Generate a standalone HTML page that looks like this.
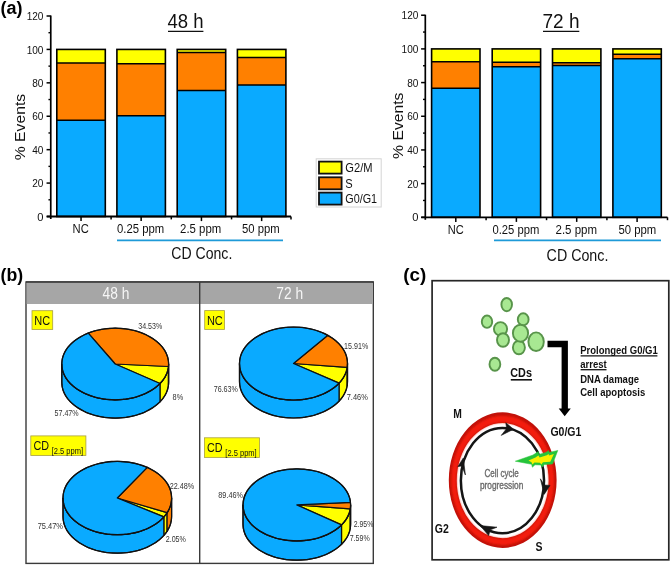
<!DOCTYPE html>
<html><head><meta charset="utf-8"><style>
html,body{margin:0;padding:0;background:#fff;}
svg{display:block;font-family:"Liberation Sans", sans-serif;filter:blur(0.3px);}
</style></head><body>
<svg width="672" height="567" viewBox="0 0 672 567">
<defs><filter id="bl" x="-10%" y="-10%" width="120%" height="120%"><feGaussianBlur stdDeviation="0.8"/></filter></defs>
<rect width="672" height="567" fill="#fff"/>
<text x="0.60" y="13.60" font-size="18.90" font-weight="bold" fill="#000" text-anchor="start" textLength="22.00" lengthAdjust="spacingAndGlyphs">(a)</text>
<rect x="56.80" y="49.42" width="48.50" height="167.08" fill="#ffff00" stroke="none" stroke-width="0"/>
<rect x="56.80" y="63.12" width="48.50" height="57.14" fill="#ff8000" stroke="none" stroke-width="0"/>
<rect x="56.80" y="120.26" width="48.50" height="96.24" fill="#0aaaff" stroke="none" stroke-width="0"/>
<line x1="56.80" y1="63.12" x2="105.30" y2="63.12" stroke="#000" stroke-width="1.5"/>
<line x1="56.80" y1="120.26" x2="105.30" y2="120.26" stroke="#000" stroke-width="1.5"/>
<rect x="56.80" y="49.42" width="48.50" height="167.08" fill="none" stroke="#000" stroke-width="1.6"/>
<rect x="116.90" y="49.42" width="48.50" height="167.08" fill="#ffff00" stroke="none" stroke-width="0"/>
<rect x="116.90" y="63.79" width="48.50" height="51.96" fill="#ff8000" stroke="none" stroke-width="0"/>
<rect x="116.90" y="115.75" width="48.50" height="100.75" fill="#0aaaff" stroke="none" stroke-width="0"/>
<line x1="116.90" y1="63.79" x2="165.40" y2="63.79" stroke="#000" stroke-width="1.5"/>
<line x1="116.90" y1="115.75" x2="165.40" y2="115.75" stroke="#000" stroke-width="1.5"/>
<rect x="116.90" y="49.42" width="48.50" height="167.08" fill="none" stroke="#000" stroke-width="1.6"/>
<rect x="177.20" y="49.42" width="48.50" height="167.08" fill="#ffff00" stroke="none" stroke-width="0"/>
<rect x="177.20" y="52.43" width="48.50" height="38.09" fill="#ff8000" stroke="none" stroke-width="0"/>
<rect x="177.20" y="90.52" width="48.50" height="125.98" fill="#0aaaff" stroke="none" stroke-width="0"/>
<line x1="177.20" y1="52.43" x2="225.70" y2="52.43" stroke="#000" stroke-width="1.5"/>
<line x1="177.20" y1="90.52" x2="225.70" y2="90.52" stroke="#000" stroke-width="1.5"/>
<rect x="177.20" y="49.42" width="48.50" height="167.08" fill="none" stroke="#000" stroke-width="1.6"/>
<rect x="237.40" y="49.42" width="48.50" height="167.08" fill="#ffff00" stroke="none" stroke-width="0"/>
<rect x="237.40" y="57.44" width="48.50" height="27.57" fill="#ff8000" stroke="none" stroke-width="0"/>
<rect x="237.40" y="85.01" width="48.50" height="131.49" fill="#0aaaff" stroke="none" stroke-width="0"/>
<line x1="237.40" y1="57.44" x2="285.90" y2="57.44" stroke="#000" stroke-width="1.5"/>
<line x1="237.40" y1="85.01" x2="285.90" y2="85.01" stroke="#000" stroke-width="1.5"/>
<rect x="237.40" y="49.42" width="48.50" height="167.08" fill="none" stroke="#000" stroke-width="1.6"/>
<line x1="50.75" y1="15.50" x2="50.75" y2="219.00" stroke="#000" stroke-width="1.7"/>
<line x1="46.75" y1="216.50" x2="291.00" y2="216.50" stroke="#000" stroke-width="1.8"/>
<line x1="46.55" y1="216.50" x2="50.75" y2="216.50" stroke="#000" stroke-width="1.5"/>
<text x="43.45" y="220.60" font-size="11.60" font-weight="normal" fill="#111" text-anchor="end" textLength="6.20" lengthAdjust="spacingAndGlyphs">0</text>
<line x1="46.55" y1="183.08" x2="50.75" y2="183.08" stroke="#000" stroke-width="1.5"/>
<text x="43.45" y="187.18" font-size="11.60" font-weight="normal" fill="#111" text-anchor="end" textLength="11.20" lengthAdjust="spacingAndGlyphs">20</text>
<line x1="46.55" y1="149.67" x2="50.75" y2="149.67" stroke="#000" stroke-width="1.5"/>
<text x="43.45" y="153.77" font-size="11.60" font-weight="normal" fill="#111" text-anchor="end" textLength="11.20" lengthAdjust="spacingAndGlyphs">40</text>
<line x1="46.55" y1="116.25" x2="50.75" y2="116.25" stroke="#000" stroke-width="1.5"/>
<text x="43.45" y="120.35" font-size="11.60" font-weight="normal" fill="#111" text-anchor="end" textLength="11.20" lengthAdjust="spacingAndGlyphs">60</text>
<line x1="46.55" y1="82.84" x2="50.75" y2="82.84" stroke="#000" stroke-width="1.5"/>
<text x="43.45" y="86.94" font-size="11.60" font-weight="normal" fill="#111" text-anchor="end" textLength="11.20" lengthAdjust="spacingAndGlyphs">80</text>
<line x1="46.55" y1="49.42" x2="50.75" y2="49.42" stroke="#000" stroke-width="1.5"/>
<text x="43.45" y="53.52" font-size="11.60" font-weight="normal" fill="#111" text-anchor="end" textLength="16.80" lengthAdjust="spacingAndGlyphs">100</text>
<line x1="46.55" y1="16.00" x2="50.75" y2="16.00" stroke="#000" stroke-width="1.5"/>
<text x="43.45" y="20.10" font-size="11.60" font-weight="normal" fill="#111" text-anchor="end" textLength="16.80" lengthAdjust="spacingAndGlyphs">120</text>
<line x1="48.45" y1="199.79" x2="50.75" y2="199.79" stroke="#000" stroke-width="1.4"/>
<line x1="48.45" y1="166.38" x2="50.75" y2="166.38" stroke="#000" stroke-width="1.4"/>
<line x1="48.45" y1="132.96" x2="50.75" y2="132.96" stroke="#000" stroke-width="1.4"/>
<line x1="48.45" y1="99.54" x2="50.75" y2="99.54" stroke="#000" stroke-width="1.4"/>
<line x1="48.45" y1="66.13" x2="50.75" y2="66.13" stroke="#000" stroke-width="1.4"/>
<line x1="48.45" y1="32.71" x2="50.75" y2="32.71" stroke="#000" stroke-width="1.4"/>
<line x1="81.05" y1="216.50" x2="81.05" y2="221.10" stroke="#000" stroke-width="1.5"/>
<line x1="111.10" y1="216.50" x2="111.10" y2="219.40" stroke="#000" stroke-width="1.5"/>
<line x1="141.15" y1="216.50" x2="141.15" y2="221.10" stroke="#000" stroke-width="1.5"/>
<line x1="171.30" y1="216.50" x2="171.30" y2="219.40" stroke="#000" stroke-width="1.5"/>
<line x1="201.45" y1="216.50" x2="201.45" y2="221.10" stroke="#000" stroke-width="1.5"/>
<line x1="231.55" y1="216.50" x2="231.55" y2="219.40" stroke="#000" stroke-width="1.5"/>
<line x1="261.65" y1="216.50" x2="261.65" y2="221.10" stroke="#000" stroke-width="1.5"/>
<line x1="291.00" y1="216.50" x2="291.00" y2="219.40" stroke="#000" stroke-width="1.5"/>
<text x="72.60" y="232.90" font-size="12.00" font-weight="normal" fill="#111" text-anchor="start" textLength="16.20" lengthAdjust="spacingAndGlyphs">NC</text>
<text x="117.10" y="232.90" font-size="12.00" font-weight="normal" fill="#111" text-anchor="start" textLength="47.10" lengthAdjust="spacingAndGlyphs">0.25 ppm</text>
<text x="180.10" y="232.90" font-size="12.00" font-weight="normal" fill="#111" text-anchor="start" textLength="41.10" lengthAdjust="spacingAndGlyphs">2.5 ppm</text>
<text x="242.00" y="232.90" font-size="12.00" font-weight="normal" fill="#111" text-anchor="start" textLength="37.70" lengthAdjust="spacingAndGlyphs">50 ppm</text>
<line x1="117.00" y1="240.40" x2="283.00" y2="240.40" stroke="#1e9ad8" stroke-width="1.6"/>
<text x="171.30" y="258.80" font-size="15.60" font-weight="normal" fill="#111" text-anchor="start" textLength="61.00" lengthAdjust="spacingAndGlyphs">CD Conc.</text>
<text x="167.50" y="28.30" font-size="19.50" font-weight="normal" fill="#111" text-anchor="start" textLength="36.10" lengthAdjust="spacingAndGlyphs">48 h</text>
<line x1="168.00" y1="31.40" x2="203.40" y2="31.40" stroke="#111" stroke-width="1.4"/>
<text transform="translate(25.30,160.20) rotate(-90)" font-size="14.3" fill="#111" textLength="66.3" lengthAdjust="spacingAndGlyphs">% Events</text>
<rect x="431.60" y="48.90" width="48.40" height="168.40" fill="#ffff00" stroke="none" stroke-width="0"/>
<rect x="431.60" y="61.87" width="48.40" height="26.27" fill="#ff8000" stroke="none" stroke-width="0"/>
<rect x="431.60" y="88.14" width="48.40" height="129.16" fill="#0aaaff" stroke="none" stroke-width="0"/>
<line x1="431.60" y1="61.87" x2="480.00" y2="61.87" stroke="#000" stroke-width="1.5"/>
<line x1="431.60" y1="88.14" x2="480.00" y2="88.14" stroke="#000" stroke-width="1.5"/>
<rect x="431.60" y="48.90" width="48.40" height="168.40" fill="none" stroke="#000" stroke-width="1.6"/>
<rect x="492.20" y="48.90" width="48.40" height="168.40" fill="#ffff00" stroke="none" stroke-width="0"/>
<rect x="492.20" y="62.37" width="48.40" height="4.38" fill="#ff8000" stroke="none" stroke-width="0"/>
<rect x="492.20" y="66.75" width="48.40" height="150.55" fill="#0aaaff" stroke="none" stroke-width="0"/>
<line x1="492.20" y1="62.37" x2="540.60" y2="62.37" stroke="#000" stroke-width="1.5"/>
<line x1="492.20" y1="66.75" x2="540.60" y2="66.75" stroke="#000" stroke-width="1.5"/>
<rect x="492.20" y="48.90" width="48.40" height="168.40" fill="none" stroke="#000" stroke-width="1.6"/>
<rect x="552.50" y="48.90" width="48.40" height="168.40" fill="#ffff00" stroke="none" stroke-width="0"/>
<rect x="552.50" y="62.71" width="48.40" height="2.69" fill="#ff8000" stroke="none" stroke-width="0"/>
<rect x="552.50" y="65.40" width="48.40" height="151.90" fill="#0aaaff" stroke="none" stroke-width="0"/>
<line x1="552.50" y1="62.71" x2="600.90" y2="62.71" stroke="#000" stroke-width="1.5"/>
<line x1="552.50" y1="65.40" x2="600.90" y2="65.40" stroke="#000" stroke-width="1.5"/>
<rect x="552.50" y="48.90" width="48.40" height="168.40" fill="none" stroke="#000" stroke-width="1.6"/>
<rect x="612.90" y="48.90" width="48.40" height="168.40" fill="#ffff00" stroke="none" stroke-width="0"/>
<rect x="612.90" y="54.29" width="48.40" height="4.46" fill="#ff8000" stroke="none" stroke-width="0"/>
<rect x="612.90" y="58.75" width="48.40" height="158.55" fill="#0aaaff" stroke="none" stroke-width="0"/>
<line x1="612.90" y1="54.29" x2="661.30" y2="54.29" stroke="#000" stroke-width="1.5"/>
<line x1="612.90" y1="58.75" x2="661.30" y2="58.75" stroke="#000" stroke-width="1.5"/>
<rect x="612.90" y="48.90" width="48.40" height="168.40" fill="none" stroke="#000" stroke-width="1.6"/>
<line x1="425.30" y1="14.72" x2="425.30" y2="219.80" stroke="#000" stroke-width="1.7"/>
<line x1="421.30" y1="217.30" x2="667.50" y2="217.30" stroke="#000" stroke-width="1.8"/>
<line x1="421.10" y1="217.30" x2="425.30" y2="217.30" stroke="#000" stroke-width="1.5"/>
<text x="418.40" y="221.40" font-size="11.60" font-weight="normal" fill="#111" text-anchor="end" textLength="6.20" lengthAdjust="spacingAndGlyphs">0</text>
<line x1="421.10" y1="183.62" x2="425.30" y2="183.62" stroke="#000" stroke-width="1.5"/>
<text x="418.40" y="187.72" font-size="11.60" font-weight="normal" fill="#111" text-anchor="end" textLength="11.20" lengthAdjust="spacingAndGlyphs">20</text>
<line x1="421.10" y1="149.94" x2="425.30" y2="149.94" stroke="#000" stroke-width="1.5"/>
<text x="418.40" y="154.04" font-size="11.60" font-weight="normal" fill="#111" text-anchor="end" textLength="11.20" lengthAdjust="spacingAndGlyphs">40</text>
<line x1="421.10" y1="116.26" x2="425.30" y2="116.26" stroke="#000" stroke-width="1.5"/>
<text x="418.40" y="120.36" font-size="11.60" font-weight="normal" fill="#111" text-anchor="end" textLength="11.20" lengthAdjust="spacingAndGlyphs">60</text>
<line x1="421.10" y1="82.58" x2="425.30" y2="82.58" stroke="#000" stroke-width="1.5"/>
<text x="418.40" y="86.68" font-size="11.60" font-weight="normal" fill="#111" text-anchor="end" textLength="11.20" lengthAdjust="spacingAndGlyphs">80</text>
<line x1="421.10" y1="48.90" x2="425.30" y2="48.90" stroke="#000" stroke-width="1.5"/>
<text x="418.40" y="53.00" font-size="11.60" font-weight="normal" fill="#111" text-anchor="end" textLength="16.80" lengthAdjust="spacingAndGlyphs">100</text>
<line x1="421.10" y1="15.22" x2="425.30" y2="15.22" stroke="#000" stroke-width="1.5"/>
<text x="418.40" y="19.32" font-size="11.60" font-weight="normal" fill="#111" text-anchor="end" textLength="16.80" lengthAdjust="spacingAndGlyphs">120</text>
<line x1="423.00" y1="200.46" x2="425.30" y2="200.46" stroke="#000" stroke-width="1.4"/>
<line x1="423.00" y1="166.78" x2="425.30" y2="166.78" stroke="#000" stroke-width="1.4"/>
<line x1="423.00" y1="133.10" x2="425.30" y2="133.10" stroke="#000" stroke-width="1.4"/>
<line x1="423.00" y1="99.42" x2="425.30" y2="99.42" stroke="#000" stroke-width="1.4"/>
<line x1="423.00" y1="65.74" x2="425.30" y2="65.74" stroke="#000" stroke-width="1.4"/>
<line x1="423.00" y1="32.06" x2="425.30" y2="32.06" stroke="#000" stroke-width="1.4"/>
<line x1="455.80" y1="217.30" x2="455.80" y2="221.90" stroke="#000" stroke-width="1.5"/>
<line x1="486.10" y1="217.30" x2="486.10" y2="220.20" stroke="#000" stroke-width="1.5"/>
<line x1="516.40" y1="217.30" x2="516.40" y2="221.90" stroke="#000" stroke-width="1.5"/>
<line x1="546.55" y1="217.30" x2="546.55" y2="220.20" stroke="#000" stroke-width="1.5"/>
<line x1="576.70" y1="217.30" x2="576.70" y2="221.90" stroke="#000" stroke-width="1.5"/>
<line x1="606.90" y1="217.30" x2="606.90" y2="220.20" stroke="#000" stroke-width="1.5"/>
<line x1="637.10" y1="217.30" x2="637.10" y2="221.90" stroke="#000" stroke-width="1.5"/>
<line x1="667.50" y1="217.30" x2="667.50" y2="220.20" stroke="#000" stroke-width="1.5"/>
<text x="447.80" y="233.50" font-size="12.00" font-weight="normal" fill="#111" text-anchor="start" textLength="16.00" lengthAdjust="spacingAndGlyphs">NC</text>
<text x="492.50" y="233.50" font-size="12.00" font-weight="normal" fill="#111" text-anchor="start" textLength="46.80" lengthAdjust="spacingAndGlyphs">0.25 ppm</text>
<text x="555.50" y="233.50" font-size="12.00" font-weight="normal" fill="#111" text-anchor="start" textLength="41.50" lengthAdjust="spacingAndGlyphs">2.5 ppm</text>
<text x="618.50" y="233.50" font-size="12.00" font-weight="normal" fill="#111" text-anchor="start" textLength="37.80" lengthAdjust="spacingAndGlyphs">50 ppm</text>
<line x1="494.00" y1="240.40" x2="661.00" y2="240.40" stroke="#1e9ad8" stroke-width="1.6"/>
<text x="546.60" y="260.60" font-size="15.60" font-weight="normal" fill="#111" text-anchor="start" textLength="61.80" lengthAdjust="spacingAndGlyphs">CD Conc.</text>
<text x="542.50" y="28.30" font-size="19.50" font-weight="normal" fill="#111" text-anchor="start" textLength="37.00" lengthAdjust="spacingAndGlyphs">72 h</text>
<line x1="543.00" y1="31.40" x2="579.30" y2="31.40" stroke="#111" stroke-width="1.4"/>
<text transform="translate(402.80,158.90) rotate(-90)" font-size="14.3" fill="#111" textLength="66.3" lengthAdjust="spacingAndGlyphs">% Events</text>
<rect x="316.20" y="158.80" width="65.00" height="48.20" fill="#fff" stroke="#d4d4d4" stroke-width="1"/>
<rect x="319.00" y="161.60" width="22.60" height="12.00" fill="#ffff00" stroke="#111" stroke-width="1.8"/>
<text x="345.30" y="172.10" font-size="12.40" font-weight="normal" fill="#111" text-anchor="start" textLength="27.20" lengthAdjust="spacingAndGlyphs">G2/M</text>
<rect x="319.00" y="177.30" width="22.60" height="12.00" fill="#ff8000" stroke="#111" stroke-width="1.8"/>
<text x="345.30" y="187.80" font-size="12.40" font-weight="normal" fill="#111" text-anchor="start" textLength="7.40" lengthAdjust="spacingAndGlyphs">S</text>
<rect x="319.00" y="192.60" width="22.60" height="12.00" fill="#0aaaff" stroke="#111" stroke-width="1.8"/>
<text x="345.30" y="203.10" font-size="12.40" font-weight="normal" fill="#111" text-anchor="start" textLength="31.80" lengthAdjust="spacingAndGlyphs">G0/G1</text>
<text x="0.50" y="280.50" font-size="18.90" font-weight="bold" fill="#000" text-anchor="start" textLength="22.60" lengthAdjust="spacingAndGlyphs">(b)</text>
<rect x="26.00" y="282.00" width="347.30" height="281.40" fill="#fff" stroke="#3a3a3a" stroke-width="1.4"/>
<rect x="26.70" y="282.70" width="346.10" height="21.30" fill="#a6a6a6" stroke="none" stroke-width="0"/>
<line x1="26.00" y1="282.00" x2="373.50" y2="282.00" stroke="#3a3a3a" stroke-width="1.6"/>
<line x1="199.70" y1="282.00" x2="199.70" y2="563.40" stroke="#3a3a3a" stroke-width="1.4"/>
<text x="102.60" y="298.90" font-size="16.30" font-weight="normal" fill="#f6f6f6" text-anchor="start" textLength="26.80" lengthAdjust="spacingAndGlyphs">48 h</text>
<text x="276.30" y="298.90" font-size="16.30" font-weight="normal" fill="#f6f6f6" text-anchor="start" textLength="26.80" lengthAdjust="spacingAndGlyphs">72 h</text>
<path d="M159.99,383.50 L161.55,381.78 L162.97,380.00 L164.23,378.18 L165.34,376.31 L166.30,374.40 L167.09,372.46 L167.72,370.49 L168.18,368.50 L168.47,366.50 L168.47,384.80 L168.18,386.80 L167.72,388.79 L167.09,390.76 L166.30,392.70 L165.34,394.61 L164.23,396.48 L162.97,398.30 L161.55,400.08 L159.99,401.80Z" fill="#ffff00" stroke="#111" stroke-width="1.25" stroke-linejoin="round"/>
<path d="M168.47,366.50 L168.57,365.25 L168.60,364.00 L168.60,382.30 L168.57,383.55 L168.47,384.80Z" fill="#ff8000" stroke="#111" stroke-width="1.25" stroke-linejoin="round"/>
<path d="M61.80,364.00 L61.87,365.87 L62.09,367.74 L62.46,369.60 L62.97,371.44 L63.62,373.27 L64.41,375.06 L65.35,376.83 L66.42,378.56 L67.62,380.25 L68.95,381.90 L70.41,383.50 L72.00,385.04 L73.70,386.53 L75.52,387.95 L77.44,389.31 L79.47,390.60 L81.59,391.82 L83.81,392.96 L86.12,394.02 L88.50,395.00 L90.96,395.90 L93.48,396.70 L96.06,397.42 L98.70,398.05 L101.38,398.58 L104.10,399.02 L106.85,399.36 L109.62,399.60 L112.41,399.75 L115.20,399.80 L117.99,399.75 L120.78,399.60 L123.55,399.36 L126.30,399.02 L129.02,398.58 L131.70,398.05 L134.34,397.42 L136.92,396.70 L139.44,395.90 L141.90,395.00 L144.28,394.02 L146.59,392.96 L148.81,391.82 L150.93,390.60 L152.96,389.31 L154.88,387.95 L156.70,386.53 L158.40,385.04 L159.99,383.50 L159.99,401.80 L158.40,403.34 L156.70,404.83 L154.88,406.25 L152.96,407.61 L150.93,408.90 L148.81,410.12 L146.59,411.26 L144.28,412.32 L141.90,413.30 L139.44,414.20 L136.92,415.00 L134.34,415.72 L131.70,416.35 L129.02,416.88 L126.30,417.32 L123.55,417.66 L120.78,417.90 L117.99,418.05 L115.20,418.10 L112.41,418.05 L109.62,417.90 L106.85,417.66 L104.10,417.32 L101.38,416.88 L98.70,416.35 L96.06,415.72 L93.48,415.00 L90.96,414.20 L88.50,413.30 L86.12,412.32 L83.81,411.26 L81.59,410.12 L79.47,408.90 L77.44,407.61 L75.52,406.25 L73.70,404.83 L72.00,403.34 L70.41,401.80 L68.95,400.20 L67.62,398.55 L66.42,396.86 L65.35,395.13 L64.41,393.36 L63.62,391.57 L62.97,389.74 L62.46,387.90 L62.09,386.04 L61.87,384.17 L61.80,382.30Z" fill="#0aaaff" stroke="#111" stroke-width="1.25" stroke-linejoin="round"/>
<path d="M115.20,364.00 L159.99,383.50 L161.55,381.78 L162.97,380.00 L164.23,378.18 L165.34,376.31 L166.30,374.40 L167.09,372.46 L167.72,370.49 L168.18,368.50 L168.47,366.50Z" fill="#ffff00" stroke="#111" stroke-width="1.25" stroke-linejoin="round"/>
<path d="M115.20,364.00 L168.47,366.50 L168.59,364.60 L168.57,362.71 L168.39,360.82 L168.06,358.94 L167.59,357.07 L166.97,355.22 L166.21,353.40 L165.30,351.61 L164.25,349.85 L163.07,348.13 L161.75,346.45 L160.30,344.83 L158.72,343.26 L157.02,341.74 L155.21,340.29 L153.28,338.90 L151.25,337.59 L149.12,336.35 L146.89,335.18 L144.57,334.10 L142.17,333.10 L139.69,332.19 L137.15,331.36 L134.54,330.63 L131.89,329.99 L129.18,329.45 L126.43,329.00 L123.66,328.65 L120.86,328.40 L118.04,328.25 L115.22,328.20 L112.39,328.25 L109.58,328.40 L106.77,328.65 L104.00,329.00 L101.25,329.44 L98.55,329.99 L95.89,330.62 L93.28,331.36 L90.73,332.18 L88.26,333.09Z" fill="#ff8000" stroke="#111" stroke-width="1.25" stroke-linejoin="round"/>
<path d="M115.20,364.00 L88.26,333.09 L85.85,334.09 L83.53,335.18 L81.29,336.34 L79.15,337.59 L77.11,338.91 L75.18,340.30 L73.36,341.75 L71.66,343.27 L70.08,344.85 L68.63,346.48 L67.31,348.16 L66.13,349.88 L65.08,351.65 L64.17,353.45 L63.41,355.28 L62.79,357.13 L62.32,359.00 L62.00,360.89 L61.83,362.78 L61.81,364.68 L61.94,366.58 L62.22,368.47 L62.65,370.35 L63.22,372.21 L63.94,374.04 L64.81,375.85 L65.82,377.63 L66.97,379.36 L68.25,381.06 L69.66,382.70 L71.21,384.29 L72.88,385.83 L74.66,387.30 L76.56,388.71 L78.57,390.05 L80.68,391.32 L82.89,392.50 L85.19,393.61 L87.58,394.64 L90.04,395.58 L92.57,396.43 L95.17,397.19 L97.82,397.85 L100.52,398.42 L103.27,398.89 L106.04,399.27 L108.85,399.55 L111.67,399.72 L114.50,399.80 L117.33,399.77 L120.16,399.65 L122.97,399.42 L125.76,399.09 L128.52,398.67 L131.24,398.15 L133.92,397.53 L136.55,396.81 L139.11,396.01 L141.61,395.11 L144.03,394.13 L146.38,393.06 L148.63,391.92 L150.79,390.69 L152.85,389.38 L154.81,388.01 L156.65,386.57 L158.38,385.06 L159.99,383.50Z" fill="#0aaaff" stroke="#111" stroke-width="1.25" stroke-linejoin="round"/>
<ellipse cx="115.20" cy="364.00" rx="53.40" ry="35.80" fill="none" stroke="#111" stroke-width="1.2"/>
<path d="M61.80,364.00 L61.80,382.30 A53.40,35.80 0 0 0 168.60,382.30 L168.60,364.00" fill="none" stroke="#111" stroke-width="1.2"/>
<path d="M339.04,383.11 L340.64,381.30 L342.09,379.43 L343.37,377.50 L344.48,375.53 L345.42,373.52 L346.19,371.48 L346.79,369.41 L347.20,367.32 L347.20,385.32 L346.79,387.41 L346.19,389.48 L345.42,391.52 L344.48,393.53 L343.37,395.50 L342.09,397.43 L340.64,399.30 L339.04,401.11Z" fill="#ffff00" stroke="#111" stroke-width="1.25" stroke-linejoin="round"/>
<path d="M347.20,367.32 L347.43,365.41 L347.50,363.50 L347.50,381.50 L347.43,383.41 L347.20,385.32Z" fill="#ff8000" stroke="#111" stroke-width="1.25" stroke-linejoin="round"/>
<path d="M239.50,363.50 L239.57,365.42 L239.80,367.33 L240.17,369.23 L240.69,371.11 L241.35,372.98 L242.16,374.82 L243.11,376.62 L244.20,378.39 L245.43,380.12 L246.78,381.81 L248.27,383.44 L249.88,385.02 L251.61,386.54 L253.46,387.99 L255.42,389.38 L257.48,390.69 L259.64,391.94 L261.90,393.10 L264.24,394.18 L266.67,395.17 L269.16,396.08 L271.73,396.90 L274.35,397.63 L277.03,398.26 L279.76,398.80 L282.52,399.24 L285.31,399.58 L288.12,399.82 L290.95,399.96 L293.79,400.00 L296.62,399.94 L299.45,399.78 L302.26,399.52 L305.05,399.16 L307.80,398.70 L310.52,398.14 L313.18,397.49 L315.80,396.74 L318.35,395.91 L320.83,394.98 L323.24,393.97 L325.57,392.87 L327.80,391.69 L329.95,390.43 L331.99,389.10 L333.92,387.70 L335.75,386.23 L337.46,384.70 L339.04,383.11 L339.04,401.11 L337.46,402.70 L335.75,404.23 L333.92,405.70 L331.99,407.10 L329.95,408.43 L327.80,409.69 L325.57,410.87 L323.24,411.97 L320.83,412.98 L318.35,413.91 L315.80,414.74 L313.18,415.49 L310.52,416.14 L307.80,416.70 L305.05,417.16 L302.26,417.52 L299.45,417.78 L296.62,417.94 L293.79,418.00 L290.95,417.96 L288.12,417.82 L285.31,417.58 L282.52,417.24 L279.76,416.80 L277.03,416.26 L274.35,415.63 L271.73,414.90 L269.16,414.08 L266.67,413.17 L264.24,412.18 L261.90,411.10 L259.64,409.94 L257.48,408.69 L255.42,407.38 L253.46,405.99 L251.61,404.54 L249.88,403.02 L248.27,401.44 L246.78,399.81 L245.43,398.12 L244.20,396.39 L243.11,394.62 L242.16,392.82 L241.35,390.98 L240.69,389.11 L240.17,387.23 L239.80,385.33 L239.57,383.42 L239.50,381.50Z" fill="#0aaaff" stroke="#111" stroke-width="1.25" stroke-linejoin="round"/>
<path d="M293.50,363.50 L339.04,383.11 L340.64,381.30 L342.09,379.43 L343.37,377.50 L344.48,375.53 L345.42,373.52 L346.19,371.48 L346.79,369.41 L347.20,367.32Z" fill="#ffff00" stroke="#111" stroke-width="1.25" stroke-linejoin="round"/>
<path d="M293.50,363.50 L347.20,367.32 L347.43,365.32 L347.50,363.32 L347.40,361.32 L347.15,359.33 L346.73,357.35 L346.15,355.39 L345.42,353.46 L344.52,351.55 L343.48,349.68 L342.28,347.85 L340.94,346.07 L339.46,344.34 L337.84,342.67 L336.08,341.06 L334.20,339.51 L332.20,338.04 L330.08,336.65 L327.85,335.34Z" fill="#ff8000" stroke="#111" stroke-width="1.25" stroke-linejoin="round"/>
<path d="M293.50,363.50 L327.85,335.34 L325.61,334.16 L323.29,333.06 L320.88,332.04 L318.40,331.11 L315.85,330.27 L313.23,329.52 L310.57,328.87 L307.85,328.31 L305.10,327.85 L302.31,327.49 L299.50,327.23 L296.67,327.06 L293.84,327.00 L291.00,327.04 L288.17,327.18 L285.36,327.42 L282.56,327.76 L279.80,328.19 L277.08,328.73 L274.40,329.36 L271.77,330.09 L269.20,330.90 L266.70,331.81 L264.28,332.81 L261.93,333.89 L259.68,335.05 L257.51,336.29 L255.45,337.60 L253.49,338.99 L251.64,340.44 L249.90,341.96 L248.29,343.54 L246.80,345.17 L245.44,346.86 L244.21,348.58 L243.12,350.35 L242.17,352.16 L241.36,354.00 L240.69,355.86 L240.17,357.75 L239.80,359.65 L239.58,361.56 L239.50,363.48 L239.57,365.40 L239.79,367.31 L240.16,369.21 L240.68,371.10 L241.35,372.96 L242.15,374.80 L243.10,376.61 L244.19,378.38 L245.41,380.11 L246.77,381.79 L248.26,383.43 L249.87,385.00 L251.60,386.52 L253.45,387.98 L255.40,389.37 L257.47,390.68 L259.63,391.93 L261.88,393.09 L264.23,394.17 L266.65,395.17 L269.15,396.08 L271.71,396.90 L274.34,397.63 L277.02,398.26 L279.74,398.80 L282.50,399.24 L285.30,399.58 L288.11,399.82 L290.94,399.96 L293.78,400.00 L296.61,399.94 L299.44,399.78 L302.25,399.52 L305.04,399.16 L307.79,398.70 L310.51,398.14 L313.18,397.49 L315.79,396.75 L318.34,395.91 L320.83,394.98 L323.24,393.97 L325.56,392.87 L327.80,391.69 L329.94,390.43 L331.99,389.10 L333.92,387.70 L335.75,386.23 L337.46,384.70 L339.04,383.11Z" fill="#0aaaff" stroke="#111" stroke-width="1.25" stroke-linejoin="round"/>
<ellipse cx="293.50" cy="363.50" rx="54.00" ry="36.50" fill="none" stroke="#111" stroke-width="1.2"/>
<path d="M239.50,363.50 L239.50,381.50 A54.00,36.50 0 0 0 347.50,381.50 L347.50,363.50" fill="none" stroke="#111" stroke-width="1.2"/>
<path d="M163.84,516.90 L165.57,514.80 L167.10,512.63 L167.10,531.13 L165.57,533.30 L163.84,535.40Z" fill="#ffff00" stroke="#111" stroke-width="1.25" stroke-linejoin="round"/>
<path d="M167.10,512.63 L168.28,510.64 L169.29,508.60 L170.12,506.52 L170.76,504.42 L171.23,502.29 L171.51,500.15 L171.60,498.00 L171.60,516.50 L171.51,518.65 L171.23,520.79 L170.76,522.92 L170.12,525.02 L169.29,527.10 L168.28,529.14 L167.10,531.13Z" fill="#ff8000" stroke="#111" stroke-width="1.25" stroke-linejoin="round"/>
<path d="M63.00,498.00 L63.08,499.95 L63.31,501.89 L63.69,503.82 L64.22,505.73 L64.90,507.62 L65.73,509.49 L66.70,511.32 L67.82,513.12 L69.08,514.87 L70.47,516.58 L71.99,518.23 L73.64,519.82 L75.42,521.36 L77.31,522.83 L79.32,524.23 L81.43,525.55 L83.64,526.80 L85.95,527.97 L88.35,529.05 L90.82,530.04 L93.37,530.95 L95.99,531.76 L98.67,532.47 L101.41,533.09 L104.18,533.61 L107.00,534.03 L109.84,534.35 L112.70,534.57 L115.58,534.68 L118.46,534.69 L121.34,534.60 L124.21,534.40 L127.05,534.10 L129.87,533.70 L132.66,533.20 L135.40,532.60 L138.09,531.90 L140.72,531.11 L143.29,530.22 L145.78,529.25 L148.19,528.18 L150.52,527.03 L152.75,525.80 L154.88,524.49 L156.91,523.11 L158.82,521.65 L160.62,520.13 L162.30,518.54 L163.84,516.90 L163.84,535.40 L162.30,537.04 L160.62,538.63 L158.82,540.15 L156.91,541.61 L154.88,542.99 L152.75,544.30 L150.52,545.53 L148.19,546.68 L145.78,547.75 L143.29,548.72 L140.72,549.61 L138.09,550.40 L135.40,551.10 L132.66,551.70 L129.87,552.20 L127.05,552.60 L124.21,552.90 L121.34,553.10 L118.46,553.19 L115.58,553.18 L112.70,553.07 L109.84,552.85 L107.00,552.53 L104.18,552.11 L101.41,551.59 L98.67,550.97 L95.99,550.26 L93.37,549.45 L90.82,548.54 L88.35,547.55 L85.95,546.47 L83.64,545.30 L81.43,544.05 L79.32,542.73 L77.31,541.33 L75.42,539.86 L73.64,538.32 L71.99,536.73 L70.47,535.08 L69.08,533.37 L67.82,531.62 L66.70,529.82 L65.73,527.99 L64.90,526.12 L64.22,524.23 L63.69,522.32 L63.31,520.39 L63.08,518.45 L63.00,516.50Z" fill="#0aaaff" stroke="#111" stroke-width="1.25" stroke-linejoin="round"/>
<path d="M117.30,498.00 L163.84,516.90 L165.57,514.80 L167.10,512.63Z" fill="#ffff00" stroke="#111" stroke-width="1.25" stroke-linejoin="round"/>
<path d="M117.30,498.00 L167.10,512.63 L168.19,510.81 L169.13,508.94 L169.92,507.05 L170.57,505.12 L171.06,503.18 L171.39,501.22 L171.57,499.26 L171.59,497.29 L171.45,495.32 L171.16,493.36 L170.72,491.41 L170.12,489.48 L169.36,487.58 L168.46,485.70 L167.41,483.86 L166.22,482.07 L164.88,480.32 L163.41,478.61 L161.80,476.97 L160.07,475.39 L158.21,473.87 L156.23,472.42 L154.15,471.04 L151.95,469.74 L149.66,468.53 L147.27,467.40Z" fill="#ff8000" stroke="#111" stroke-width="1.25" stroke-linejoin="round"/>
<path d="M117.30,498.00 L147.27,467.40 L144.84,466.37 L142.33,465.43 L139.75,464.58 L137.10,463.83 L134.40,463.17 L131.66,462.61 L128.87,462.14 L126.05,461.78 L123.21,461.52 L120.35,461.36 L117.48,461.30 L114.62,461.34 L111.76,461.49 L108.91,461.74 L106.09,462.09 L103.30,462.54 L100.55,463.09 L97.84,463.74 L95.19,464.48 L92.60,465.32 L90.08,466.24 L87.64,467.26 L85.28,468.36 L83.01,469.55 L80.83,470.81 L78.76,472.15 L76.79,473.56 L74.94,475.04 L73.20,476.59 L71.59,478.19 L70.10,479.85 L68.75,481.56 L67.54,483.32 L66.46,485.11 L65.52,486.95 L64.73,488.81 L64.08,490.70 L63.59,492.61 L63.24,494.54 L63.05,496.47 L63.00,498.41 L63.11,500.35 L63.37,502.28 L63.78,504.20 L64.34,506.10 L65.05,507.98 L65.90,509.83 L66.89,511.65 L68.03,513.43 L69.31,515.17 L70.72,516.86 L72.25,518.49 L73.92,520.07 L75.70,521.59 L77.61,523.04 L79.62,524.42 L81.74,525.73 L83.95,526.96 L86.26,528.11 L88.66,529.18 L91.14,530.16 L93.69,531.05 L96.30,531.84 L98.98,532.55 L101.70,533.15 L104.47,533.66 L107.28,534.07 L110.11,534.38 L112.96,534.58 L115.83,534.69 L118.70,534.69 L121.56,534.59 L124.41,534.38 L127.25,534.08 L130.05,533.67 L132.82,533.17 L135.55,532.57 L138.23,531.87 L140.84,531.07 L143.39,530.18 L145.87,529.21 L148.27,528.14 L150.59,527.00 L152.80,525.77 L154.93,524.46 L156.94,523.08 L158.85,521.63 L160.63,520.12 L162.30,518.54 L163.84,516.90Z" fill="#0aaaff" stroke="#111" stroke-width="1.25" stroke-linejoin="round"/>
<ellipse cx="117.30" cy="498.00" rx="54.30" ry="36.70" fill="none" stroke="#111" stroke-width="1.2"/>
<path d="M63.00,498.00 L63.00,516.50 A54.30,36.70 0 0 0 171.60,516.50 L171.60,498.00" fill="none" stroke="#111" stroke-width="1.2"/>
<path d="M341.51,524.93 L343.03,523.32 L344.42,521.65 L345.68,519.94 L346.80,518.19 L347.78,516.40 L348.62,514.58 L349.31,512.73 L349.86,510.86 L350.25,508.98 L350.25,528.28 L349.86,530.16 L349.31,532.03 L348.62,533.88 L347.78,535.70 L346.80,537.49 L345.68,539.24 L344.42,540.95 L343.03,542.62 L341.51,544.23Z" fill="#ffff00" stroke="#111" stroke-width="1.25" stroke-linejoin="round"/>
<path d="M350.25,508.98 L350.51,506.94 L350.60,504.90 L350.60,524.20 L350.51,526.24 L350.25,528.28Z" fill="#ff8000" stroke="#111" stroke-width="1.25" stroke-linejoin="round"/>
<path d="M243.00,504.90 L243.08,506.81 L243.30,508.72 L243.68,510.62 L244.21,512.50 L244.89,514.36 L245.71,516.19 L246.68,517.99 L247.79,519.75 L249.04,521.47 L250.42,523.15 L251.94,524.77 L253.58,526.34 L255.34,527.85 L257.22,529.29 L259.22,530.66 L261.32,531.96 L263.51,533.18 L265.81,534.33 L268.19,535.39 L270.65,536.36 L273.18,537.25 L275.79,538.04 L278.45,538.74 L281.16,539.35 L283.92,539.85 L286.71,540.26 L289.53,540.57 L292.38,540.78 L295.23,540.88 L298.09,540.89 L300.95,540.79 L303.79,540.59 L306.62,540.30 L309.41,539.90 L312.17,539.40 L314.89,538.80 L317.56,538.11 L320.17,537.33 L322.71,536.45 L325.18,535.49 L327.57,534.43 L329.87,533.30 L332.08,532.08 L334.18,530.79 L336.19,529.42 L338.08,527.99 L339.85,526.49 L341.51,524.93 L341.51,544.23 L339.85,545.79 L338.08,547.29 L336.19,548.72 L334.18,550.09 L332.08,551.38 L329.87,552.60 L327.57,553.73 L325.18,554.79 L322.71,555.75 L320.17,556.63 L317.56,557.41 L314.89,558.10 L312.17,558.70 L309.41,559.20 L306.62,559.60 L303.79,559.89 L300.95,560.09 L298.09,560.19 L295.23,560.18 L292.38,560.08 L289.53,559.87 L286.71,559.56 L283.92,559.15 L281.16,558.65 L278.45,558.04 L275.79,557.34 L273.18,556.55 L270.65,555.66 L268.19,554.69 L265.81,553.63 L263.51,552.48 L261.32,551.26 L259.22,549.96 L257.22,548.59 L255.34,547.15 L253.58,545.64 L251.94,544.07 L250.42,542.45 L249.04,540.77 L247.79,539.05 L246.68,537.29 L245.71,535.49 L244.89,533.66 L244.21,531.80 L243.68,529.92 L243.30,528.02 L243.08,526.11 L243.00,524.20Z" fill="#0aaaff" stroke="#111" stroke-width="1.25" stroke-linejoin="round"/>
<path d="M296.80,504.90 L341.51,524.93 L343.03,523.32 L344.42,521.65 L345.68,519.94 L346.80,518.19 L347.78,516.40 L348.62,514.58 L349.31,512.73 L349.86,510.86 L350.25,508.98Z" fill="#ffff00" stroke="#111" stroke-width="1.25" stroke-linejoin="round"/>
<path d="M296.80,504.90 L350.25,508.98 L350.53,506.76 L350.60,504.54 L350.46,502.33Z" fill="#ff8000" stroke="#111" stroke-width="1.25" stroke-linejoin="round"/>
<path d="M296.80,504.90 L350.46,502.33 L350.19,500.44 L349.76,498.57 L349.19,496.72 L348.48,494.89 L347.62,493.09 L346.63,491.32 L345.49,489.59 L344.22,487.90 L342.82,486.26 L341.30,484.66 L339.65,483.13 L337.88,481.65 L336.00,480.24 L334.01,478.90 L331.92,477.63 L329.73,476.43 L327.45,475.31 L325.08,474.28 L322.64,473.32 L320.13,472.46 L317.55,471.68 L314.91,471.00 L312.23,470.41 L309.50,469.92 L306.74,469.52 L303.95,469.22 L301.14,469.02 L298.31,468.91 L295.49,468.91 L292.66,469.01 L289.85,469.20 L287.06,469.49 L284.30,469.89 L281.57,470.37 L278.88,470.96 L276.24,471.63 L273.66,472.40 L271.14,473.26 L268.69,474.21 L266.32,475.24 L264.03,476.35 L261.84,477.54 L259.74,478.80 L257.74,480.14 L255.85,481.55 L254.08,483.02 L252.42,484.55 L250.88,486.14 L249.47,487.78 L248.19,489.47 L247.05,491.20 L246.04,492.96 L245.18,494.76 L244.45,496.59 L243.87,498.44 L243.44,500.31 L243.15,502.19 L243.01,504.08 L243.02,505.97 L243.18,507.86 L243.49,509.74 L243.94,511.61 L244.54,513.46 L245.28,515.28 L246.17,517.08 L247.20,518.84 L248.36,520.56 L249.65,522.24 L251.08,523.88 L252.63,525.46 L254.31,526.98 L256.10,528.44 L258.00,529.84 L260.01,531.17 L262.13,532.43 L264.33,533.61 L266.63,534.71 L269.01,535.73 L271.47,536.66 L274.00,537.51 L276.59,538.26 L279.23,538.93 L281.93,539.50 L284.66,539.97 L287.43,540.35 L290.23,540.63 L293.04,540.81 L295.87,540.89 L298.69,540.88 L301.51,540.76 L304.32,540.55 L307.11,540.23 L309.87,539.82 L312.59,539.31 L315.27,538.71 L317.90,538.02 L320.47,537.23 L322.97,536.35 L325.40,535.39 L327.76,534.34 L330.02,533.21 L332.20,532.01 L334.28,530.73 L336.25,529.37 L338.12,527.95 L339.87,526.47 L341.51,524.93Z" fill="#0aaaff" stroke="#111" stroke-width="1.25" stroke-linejoin="round"/>
<ellipse cx="296.80" cy="504.90" rx="53.80" ry="36.00" fill="none" stroke="#111" stroke-width="1.2"/>
<path d="M243.00,504.90 L243.00,524.20 A53.80,36.00 0 0 0 350.60,524.20 L350.60,504.90" fill="none" stroke="#111" stroke-width="1.2"/>
<text x="138.20" y="328.80" font-size="9.40" font-weight="normal" fill="#333" text-anchor="start" textLength="24.00" lengthAdjust="spacingAndGlyphs">34.53%</text>
<text x="172.60" y="399.50" font-size="9.40" font-weight="normal" fill="#333" text-anchor="start" textLength="10.60" lengthAdjust="spacingAndGlyphs">8%</text>
<text x="54.50" y="416.30" font-size="9.40" font-weight="normal" fill="#333" text-anchor="start" textLength="24.10" lengthAdjust="spacingAndGlyphs">57.47%</text>
<text x="344.10" y="348.80" font-size="9.40" font-weight="normal" fill="#333" text-anchor="start" textLength="24.10" lengthAdjust="spacingAndGlyphs">15.91%</text>
<text x="213.70" y="392.10" font-size="9.40" font-weight="normal" fill="#333" text-anchor="start" textLength="24.10" lengthAdjust="spacingAndGlyphs">76.63%</text>
<text x="346.70" y="400.30" font-size="9.40" font-weight="normal" fill="#333" text-anchor="start" textLength="21.10" lengthAdjust="spacingAndGlyphs">7.46%</text>
<text x="169.70" y="489.30" font-size="9.40" font-weight="normal" fill="#333" text-anchor="start" textLength="24.60" lengthAdjust="spacingAndGlyphs">22.48%</text>
<text x="165.70" y="541.80" font-size="9.40" font-weight="normal" fill="#333" text-anchor="start" textLength="20.20" lengthAdjust="spacingAndGlyphs">2.05%</text>
<text x="37.70" y="529.10" font-size="9.40" font-weight="normal" fill="#333" text-anchor="start" textLength="25.30" lengthAdjust="spacingAndGlyphs">75.47%</text>
<text x="218.30" y="497.60" font-size="9.40" font-weight="normal" fill="#333" text-anchor="start" textLength="24.70" lengthAdjust="spacingAndGlyphs">89.46%</text>
<text x="353.70" y="527.00" font-size="9.40" font-weight="normal" fill="#333" text-anchor="start" textLength="19.60" lengthAdjust="spacingAndGlyphs">2.95%</text>
<text x="349.70" y="541.20" font-size="9.40" font-weight="normal" fill="#333" text-anchor="start" textLength="20.00" lengthAdjust="spacingAndGlyphs">7.59%</text>
<rect x="32.00" y="310.70" width="20.70" height="18.80" fill="#ffff00" stroke="#a8a040" stroke-width="0.8"/>
<text x="34.20" y="325.00" font-size="13.20" font-weight="normal" fill="#111" text-anchor="start" textLength="15.90" lengthAdjust="spacingAndGlyphs">NC</text>
<rect x="204.70" y="310.60" width="19.90" height="18.80" fill="#ffff00" stroke="#a8a040" stroke-width="0.8"/>
<text x="206.90" y="324.90" font-size="13.20" font-weight="normal" fill="#111" text-anchor="start" textLength="15.90" lengthAdjust="spacingAndGlyphs">NC</text>
<rect x="30.80" y="435.90" width="55.10" height="19.60" fill="#ffff00" stroke="#a8a040" stroke-width="0.8"/>
<text x="33.40" y="450.30" font-size="12.20" font-weight="normal" fill="#111" text-anchor="start" textLength="15.60" lengthAdjust="spacingAndGlyphs">CD</text>
<text x="51.70" y="453.80" font-size="8.60" font-weight="normal" fill="#111" text-anchor="start" textLength="31.40" lengthAdjust="spacingAndGlyphs">[2.5 ppm]</text>
<rect x="204.40" y="437.80" width="55.10" height="19.60" fill="#ffff00" stroke="#a8a040" stroke-width="0.8"/>
<text x="207.00" y="452.20" font-size="12.20" font-weight="normal" fill="#111" text-anchor="start" textLength="15.60" lengthAdjust="spacingAndGlyphs">CD</text>
<text x="225.30" y="455.70" font-size="8.60" font-weight="normal" fill="#111" text-anchor="start" textLength="31.40" lengthAdjust="spacingAndGlyphs">[2.5 ppm]</text>
<text x="403.20" y="280.60" font-size="18.90" font-weight="bold" fill="#000" text-anchor="start" textLength="23.00" lengthAdjust="spacingAndGlyphs">(c)</text>
<rect x="432.10" y="280.70" width="236.70" height="279.10" fill="#fff" stroke="#262626" stroke-width="1.7"/>
<ellipse cx="506.7" cy="304.6" rx="5.30" ry="6.60" fill="#a8e892" stroke="#58944a" stroke-width="1.9"/>
<ellipse cx="487" cy="321.7" rx="5.20" ry="6.20" fill="#a8e892" stroke="#58944a" stroke-width="1.9"/>
<ellipse cx="523.2" cy="319.4" rx="5.40" ry="6.10" fill="#a8e892" stroke="#58944a" stroke-width="1.9"/>
<ellipse cx="500.5" cy="328.9" rx="6.60" ry="6.80" fill="#a8e892" stroke="#58944a" stroke-width="1.9"/>
<ellipse cx="503" cy="340" rx="6.00" ry="6.80" fill="#a8e892" stroke="#58944a" stroke-width="1.9"/>
<ellipse cx="518.9" cy="347.5" rx="6.00" ry="6.80" fill="#a8e892" stroke="#58944a" stroke-width="1.9"/>
<ellipse cx="520.5" cy="333.2" rx="7.60" ry="8.50" fill="#a8e892" stroke="#58944a" stroke-width="1.9"/>
<ellipse cx="536.1" cy="341.7" rx="7.70" ry="9.30" fill="#a8e892" stroke="#58944a" stroke-width="1.9"/>
<ellipse cx="494.9" cy="364.3" rx="5.40" ry="6.50" fill="#a8e892" stroke="#58944a" stroke-width="1.9"/>
<text x="510.30" y="377.20" font-size="13.20" font-weight="bold" fill="#111" text-anchor="start" textLength="21.60" lengthAdjust="spacingAndGlyphs">CDs</text>
<line x1="510.80" y1="379.80" x2="532.00" y2="379.80" stroke="#111" stroke-width="1.6"/>
<path d="M547.5,340.8 L567.9,340.8 L567.9,408.6 L570.8,408.6 L564.7,416.2 L558.7,408.6 L561.6,408.6 L561.6,347.3 L547.5,347.3 Z" fill="#000"/>
<text x="580.20" y="353.70" font-size="11.00" font-weight="bold" fill="#111" text-anchor="start" textLength="77.60" lengthAdjust="spacingAndGlyphs">Prolonged G0/G1</text>
<line x1="580.60" y1="355.80" x2="657.40" y2="355.80" stroke="#111" stroke-width="1.3"/>
<text x="580.20" y="367.50" font-size="11.00" font-weight="bold" fill="#111" text-anchor="start" textLength="26.60" lengthAdjust="spacingAndGlyphs">arrest</text>
<line x1="580.60" y1="369.70" x2="606.50" y2="369.70" stroke="#111" stroke-width="1.3"/>
<text x="580.20" y="382.60" font-size="11.00" font-weight="bold" fill="#111" text-anchor="start" textLength="58.80" lengthAdjust="spacingAndGlyphs">DNA damage</text>
<text x="580.20" y="396.20" font-size="11.00" font-weight="bold" fill="#111" text-anchor="start" textLength="65.00" lengthAdjust="spacingAndGlyphs">Cell apoptosis</text>
<path d="M448.80,480.15 a53.90,67.75 0 1 0 107.80,0 a53.90,67.75 0 1 0 -107.80,0 Z M456.70,480.60 a46.00,57.60 0 1 0 92.00,0 a46.00,57.60 0 1 0 -92.00,0 Z" fill="#c0120a" fill-rule="evenodd"/>
<path d="M451.30,480.35 a51.40,64.60 0 1 0 102.80,0 a51.40,64.60 0 1 0 -102.80,0 Z M456.30,480.60 a46.40,58.00 0 1 0 92.80,0 a46.40,58.00 0 1 0 -92.80,0 Z" fill="#f41e08" fill-rule="evenodd" filter="url(#bl)"/>
<ellipse cx="502.45" cy="480.55" rx="41.6" ry="52.65" fill="none" stroke="#151515" stroke-width="2.5"/>
<path d="M513.60,429.20 L505.80,422.80 L506.60,428.60 L501.20,435.40Z" fill="#151515" stroke="#151515" stroke-width="0.6" stroke-linejoin="round"/>
<path d="M480.20,525.60 L497.00,527.20 L490.40,529.80 L488.60,535.60Z" fill="#151515" stroke="#151515" stroke-width="0.6" stroke-linejoin="round"/>
<path d="M544.20,494.40 L540.40,478.80 L544.20,485.00 L550.00,485.40Z" fill="#151515" stroke="#151515" stroke-width="0.6" stroke-linejoin="round"/>
<path d="M463.30,458.00 L457.90,466.60 L461.80,466.00 L465.40,475.00Z" fill="#151515" stroke="#151515" stroke-width="0.6" stroke-linejoin="round"/>
<path d="M515.3,461.2 L533.0,455.0 L538.4,451.6 L538.9,454.4 L546.0,452.4 L548.6,450.6 L548.9,452.6 L557.8,450.4 L552.6,464.0 L544.5,464.6 L541.8,467.2 L541.0,465.0 L535.0,464.8 L532.4,467.2 L531.6,464.3 Z" fill="#26c43a" stroke="#26c43a" stroke-width="0.5" stroke-linejoin="round"/>
<path d="M528.5,460.6 L535.5,457.6 L538.4,455.4 L539.6,457.6 L546.8,455.2 L548.6,454.0 L549.0,455.6 L553.9,454.0 L550.3,461.8 L543.0,462.3 L541.3,464.4 L540.0,462.8 L534.5,462.6 L532.4,464.4 L531.5,462.2 Z" fill="#f8f000"/>
<text x="453.30" y="418.20" font-size="13.50" font-weight="bold" fill="#111" text-anchor="start" textLength="8.60" lengthAdjust="spacingAndGlyphs">M</text>
<text x="550.40" y="436.20" font-size="13.50" font-weight="bold" fill="#111" text-anchor="start" textLength="31.00" lengthAdjust="spacingAndGlyphs">G0/G1</text>
<text x="434.80" y="533.20" font-size="13.50" font-weight="bold" fill="#111" text-anchor="start" textLength="14.00" lengthAdjust="spacingAndGlyphs">G2</text>
<text x="535.60" y="550.50" font-size="13.40" font-weight="bold" fill="#111" text-anchor="start" textLength="7.00" lengthAdjust="spacingAndGlyphs">S</text>
<text x="484.40" y="476.70" font-size="10.20" font-weight="normal" fill="#6a6a6a" text-anchor="start" textLength="34.40" lengthAdjust="spacingAndGlyphs" stroke="#6a6a6a" stroke-width="0.35">Cell cycle</text>
<text x="479.90" y="489.00" font-size="10.20" font-weight="normal" fill="#6a6a6a" text-anchor="start" textLength="43.40" lengthAdjust="spacingAndGlyphs" stroke="#6a6a6a" stroke-width="0.35">progression</text>
</svg></body></html>
